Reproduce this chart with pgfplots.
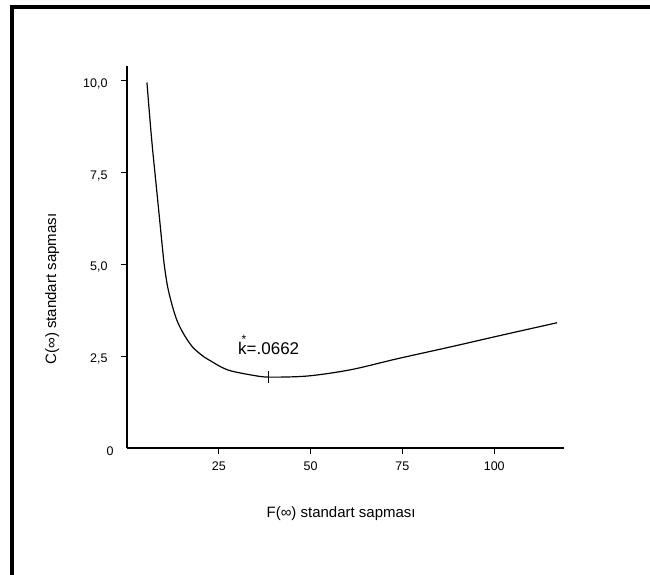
\documentclass[border=0pt]{standalone}
\usepackage{fontspec}
\setmainfont{Liberation Sans}
\usepackage{pgfplots}
\pgfplotsset{compat=1.18}
\begin{document}
\begin{tikzpicture}[x=1pt,y=1pt]
% page frame: 650 x 575, axis origin at pixel (127,448)
\useasboundingbox (-127,-127) rectangle (523,448);
\fill[black] (-117,-127) rectangle (-113,443);
\fill[black] (-117,439) rectangle (523,443);
\begin{axis}[
    at={(0,0)}, anchor=south west,
    scale only axis, width=437pt, height=382pt,
    xmin=0, xmax=119, ymin=0, ymax=10.4,
    axis lines=left, axis line style={-, line width=1.6pt},
    tick align=outside, major tick length=6pt,
    tick style={line width=1.2pt, black},
    xtick={25,50,75,100},
    ytick={2.5,5,7.5,10},
    yticklabels={{2,5},{5,0},{7,5},{10,0}},
    extra y ticks={0}, extra y tick labels={0},
    extra tick style={major tick length=0pt},
    /pgf/number format/assume math mode=true,
    tick label style={font=\fontsize{12.5}{14}\selectfont},
    xticklabel style={yshift=-4pt},
    yticklabel style={xshift=-10pt, yshift=-3pt},
    xlabel={F(∞) standart sapması},
    ylabel={C(∞) standart sapması},
    label style={font=\fontsize{15}{17}\selectfont},
    xlabel style={at={(axis description cs:0.49,0)}, anchor=center, yshift=-66pt},
    ylabel style={at={(axis description cs:-0.171,0.416)}, anchor=center},
]
\addplot[black, line width=1.2pt, smooth] coordinates {
(5.43,9.95)(6.2,9.0)(6.9,8.2)(7.6,7.5)(8.3,6.8)(8.95,6.15)(9.55,5.55)
(10.14,4.99)(11.06,4.39)(12.42,3.84)(13.78,3.43)(15.57,3.08)(17.85,2.75)
(20.57,2.51)(23.29,2.34)(25.54,2.21)(28.26,2.10)(33.7,1.99)(38.59,1.93)
(49.2,1.96)(60.9,2.13)(73.6,2.43)(88.0,2.75)(102.4,3.08)(117.1,3.41)};
\addplot[black, only marks, mark=|, mark size=6pt, mark options={line width=1pt}] coordinates {(38.59,1.93)};
\node[font=\fontsize{17}{19}\selectfont] at (axis cs:38.59,1.93) [yshift=32pt]
  {k\rlap{\kern-0.3em\raisebox{0.65em}{\fontsize{12}{12}\selectfont *}}=.0662};
\end{axis}
\end{tikzpicture}
\end{document}
